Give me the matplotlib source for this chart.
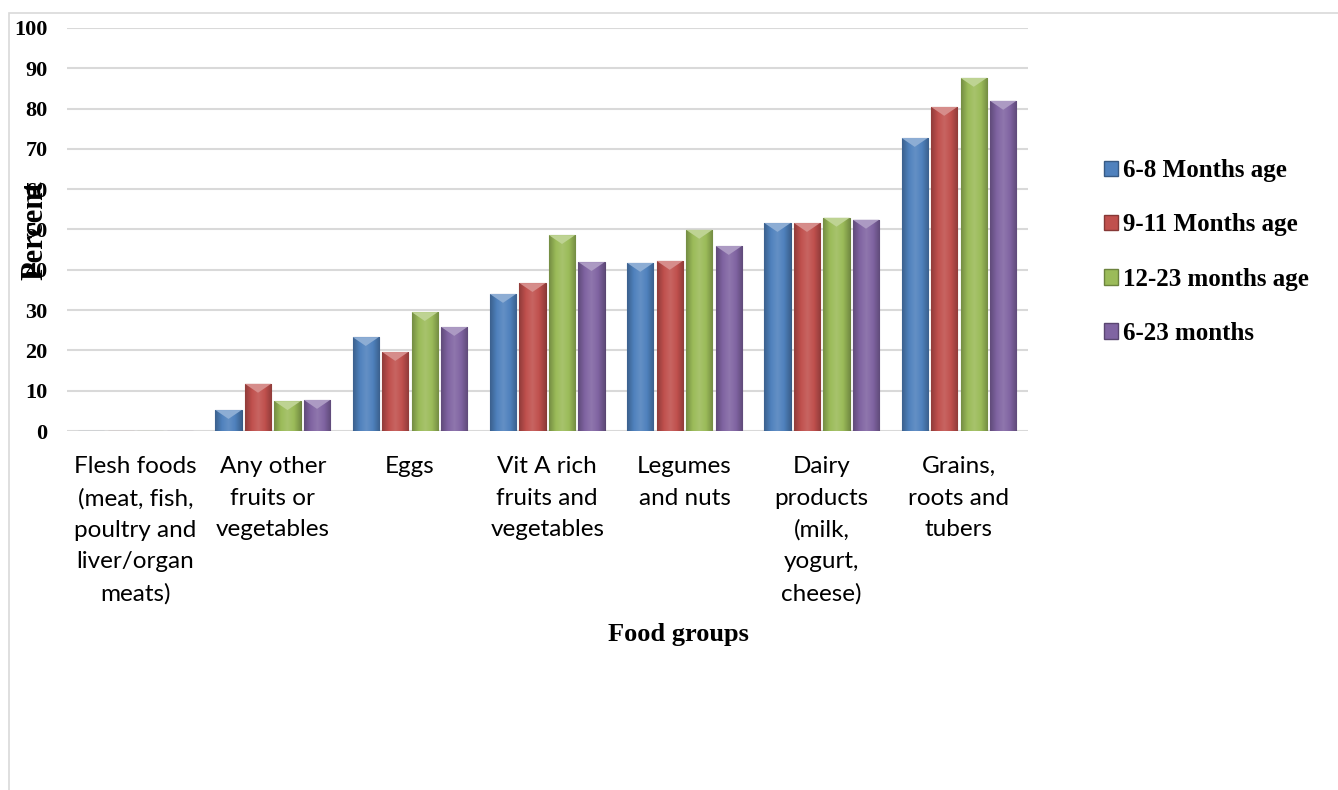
import numpy as np
import matplotlib.pyplot as plt
import matplotlib.colors as mcolors
from matplotlib.patches import Patch, Polygon, Rectangle

# Dane wykresu
categories = ["Flesh foods\n(meat, fish,\npoultry and\nliver/organ\nmeats)",
              "Any other\nfruits or\nvegetables",
              "Eggs",
              "Vit A rich\nfruits and\nvegetables",
              "Legumes\nand nuts",
              "Dairy\nproducts\n(milk,\nyogurt,\ncheese)",
              "Grains,\nroots and\ntubers"]
series_names = ["6-8 Months age", "9-11 Months age", "12-23 months age", "6-23 months"]
age_6_8 = [0, 5.2, 23.3, 34.0, 41.7, 51.6, 72.7]
age_9_11 = [0, 11.7, 19.6, 36.7, 42.2, 51.6, 80.4]
age_12_23 = [0, 7.4, 29.5, 48.6, 49.9, 52.9, 87.6]
age_6_23 = [0, 7.7, 25.8, 41.9, 45.9, 52.4, 81.9]
yticks = list(range(0, 101, 10))

series = [age_6_8, age_9_11, age_12_23, age_6_23]
colors = ["#4F81BD", "#C0504D", "#9BBB59", "#8064A2"]

serif = ["Liberation Serif", "DejaVu Serif"]

fig = plt.figure(figsize=(13.38, 7.9), dpi=100)
ax = fig.add_axes([0.050, 0.4544, 0.718, 0.5102])

# Ramka wykresu
fig.patches.append(Rectangle((9 / 1338, -0.1), 1.2, 1 - 13 / 790 + 0.1,
                             transform=fig.transFigure, fill=False,
                             edgecolor="#D9D9D9", linewidth=1.2))

x = np.arange(len(categories))
step = 0.215
width = 0.19


def shade(c, f):
    r, g, b = mcolors.to_rgb(c)
    if f < 1:
        return (r * f, g * f, b * f)
    return (r + (1 - r) * (f - 1), g + (1 - g) * (f - 1), b + (1 - b) * (f - 1))


for i, (vals, col) in enumerate(zip(series, colors)):
    pos = x + (i - 1.5) * step
    bars = ax.bar(pos, vals, width=width, color=col, edgecolor=shade(col, 0.7),
                  linewidth=0.8, zorder=3)
    cmap = mcolors.LinearSegmentedColormap.from_list(
        "g", [shade(col, 0.75), shade(col, 1.0), shade(col, 1.12), shade(col, 1.0), shade(col, 0.75)])
    grad = np.linspace(0, 1, 64).reshape(1, -1)
    for b, v in zip(bars, vals):
        if v <= 0:
            continue
        x0 = b.get_x()
        x1 = x0 + b.get_width()
        im = ax.imshow(grad, extent=[x0, x1, 0, v], aspect="auto", cmap=cmap,
                       zorder=3.5, interpolation="bicubic")
        im.set_clip_path(b)
        tri = Polygon([[x0, v], [x1, v], [(x0 + x1) / 2, v - 2.2]], closed=True,
                      facecolor=shade(col, 1.35), edgecolor="none", zorder=4)
        ax.add_patch(tri)

ax.set_xlim(-0.5, len(categories) - 0.5)
ax.set_ylim(0, 100)
ax.set_yticks(yticks)
ax.set_yticklabels([str(t) for t in yticks], fontfamily=serif, fontweight="bold", fontsize=16)
ax.set_xticks(x)
ax.set_xticklabels(categories, fontfamily=["Lato", "DejaVu Sans"], fontsize=17.5, linespacing=1.62,
                   va="top")
ax.tick_params(axis="y", length=0, pad=14)
ax.tick_params(axis="x", length=0, pad=18)
ax.grid(axis="y", color="#D9D9D9", linewidth=1.5, zorder=0)
ax.set_axisbelow(True)
for s in ax.spines.values():
    s.set_visible(False)

fig.text(35 / 1338, 1 - 230 / 790, "Percent", rotation=90, ha="center", va="center",
         fontfamily=serif, fontweight="bold", fontsize=22)
fig.text(678 / 1338, 1 - 635 / 790, "Food groups", ha="center", va="center",
         fontfamily=serif, fontweight="bold", fontsize=19)

handles = [Patch(facecolor=c, edgecolor=shade(c, 0.7)) for c in colors]
leg = fig.legend(handles, series_names, loc="center left", bbox_to_anchor=(0.808, 0.681),
                 frameon=False, handlelength=0.58, handleheight=0.58, handletextpad=0.2,
                 labelspacing=1.25, prop={"family": serif, "weight": "bold", "size": 18})

fig.savefig("out.png", dpi=100)
